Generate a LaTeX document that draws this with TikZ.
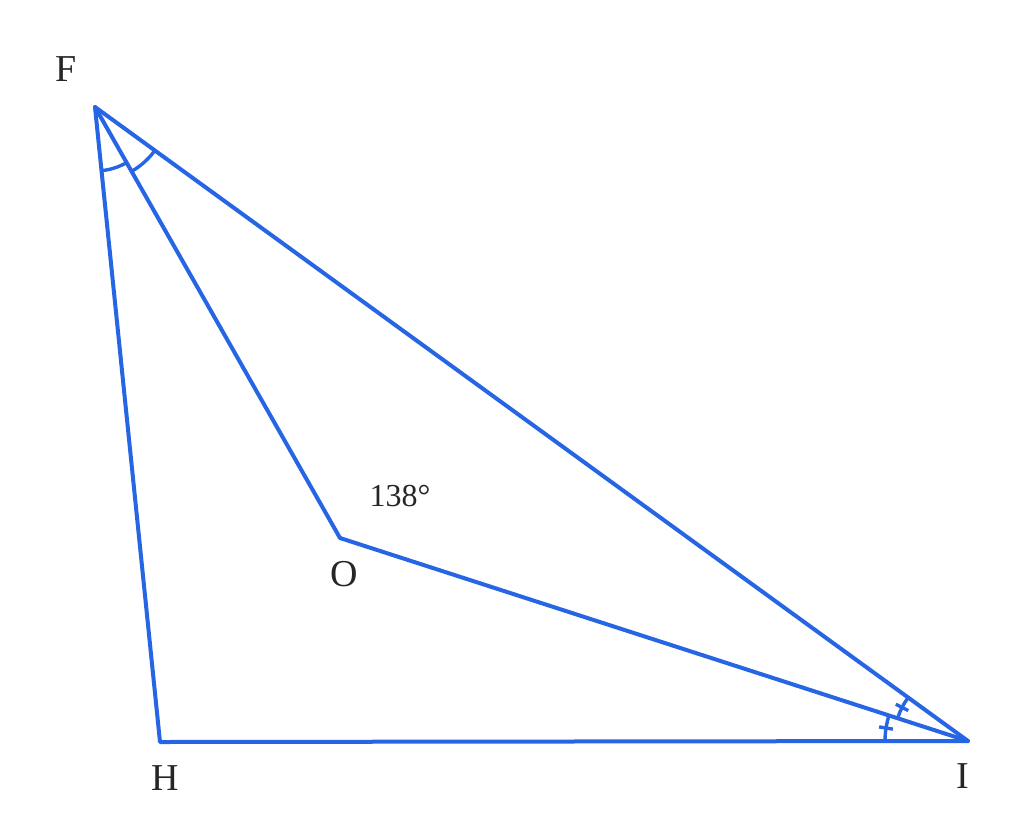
\documentclass[tikz,border=0pt]{standalone}
\usepackage{fontspec}
\setmainfont{Liberation Serif}
\definecolor{geoblue}{RGB}{38,102,228}
\begin{document}
\begin{tikzpicture}[x=1pt,y=1pt,
  seg/.style={draw=geoblue,line width=4pt,line cap=round,line join=round},
  angmark/.style={draw=geoblue,line width=3.4pt},
  lbl/.style={font=\fontsize{38}{40}\selectfont,text=black!85,inner sep=0pt},
  anglbl/.style={font=\fontsize{32}{36}\selectfont,text=black!85,inner sep=0pt}]
\useasboundingbox[fill=white] (0,0) rectangle (1024,-827);
\coordinate (F) at (95,-107);
\coordinate (H) at (160,-742);
\coordinate (I) at (968,-741);
\coordinate (O) at (340,-538);
\draw[seg] (F) -- (H) -- (I) -- cycle;
\draw[seg] (F) -- (O) -- (I);
% angle marks at F
\draw[angmark] (F) ++(-84.2:64pt) arc[start angle=-84.2,end angle=-60.4,radius=64pt];
\draw[angmark] (F) ++(-60.4:74pt) arc[start angle=-60.4,end angle=-36,radius=74pt];
% angle marks at I
\draw[angmark] (I) ++(162.1:83pt) arc[start angle=162.1,end angle=180,radius=83pt];
\draw[angmark] (I) ++(171:76pt) -- ++(171:14pt);
\draw[angmark] (I) ++(144:74pt) arc[start angle=144,end angle=162.1,radius=74pt];
\draw[angmark] (I) ++(153:67pt) -- ++(153:14pt);
% labels
\node[lbl] (lF) at (66,-69) {F};
\node[lbl] (lH) at (165,-778) {H};
\node[lbl] (lI) at (963,-776) {I};
\node[lbl] (lO) at (344,-574) {O};
\node[anglbl] (lA) at (400,-496) {138°};
\end{tikzpicture}
\end{document}
